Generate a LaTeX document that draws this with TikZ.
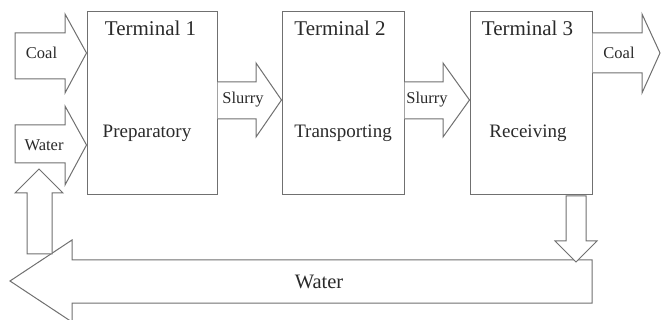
\documentclass[tikz,border=0pt]{standalone}
\usepackage{fontspec}
\setmainfont{Liberation Serif}
\definecolor{edge}{HTML}{707070}
\definecolor{ink}{HTML}{2A2A2A}
\begin{document}
\begin{tikzpicture}[x=1pt,y=-1pt,
  line width=1pt,
  terminal/.style={draw=edge, minimum height=183pt, inner sep=0pt},
  blockarrow/.style={draw=edge, fill=white, line join=miter},
  title/.style={text=ink, font=\fontsize{21}{23}\selectfont},
  role/.style={text=ink, font=\fontsize{19}{21}\selectfont},
  flow/.style={text=ink, font=\fontsize{16.5}{18}\selectfont},
  bigflow/.style={text=ink, font=\fontsize{20.5}{22}\selectfont}]
\useasboundingbox (0,0) rectangle (661,320);

% the three terminals
\node[terminal, minimum width=130pt] (t1) at (152,103.5) {};
\node[terminal, minimum width=122pt] (t2) at (343,103.5) {};
\node[terminal, minimum width=122pt] (t3) at (531,103.5) {};

% return water line along the bottom
\draw[blockarrow] (592,260) -- (592,303) -- (72,303) -- (72,322) -- (10,281)
  -- (72,240) -- (72,260) -- cycle;
% water taken back up to terminal 1
\draw[blockarrow] (27,254) -- (52,254) -- (52,193) -- (63,193) -- (39,169)
  -- (15,193) -- (27,193) -- cycle;
% water leaving terminal 3
\draw[blockarrow] (566,196) -- (586,196) -- (586,241) -- (597,241) -- (576,262)
  -- (555,241) -- (566,241) -- cycle;

% inputs to terminal 1
\draw[blockarrow] (15,33) -- (65,33) -- (65,14) -- (t1.west |- 0,53) -- (65,93)
  -- (65,79) -- (15,79) -- cycle;
\draw[blockarrow] (15,125) -- (65,125) -- (65,106) -- (t1.west |- 0,145) -- (65,185)
  -- (65,163) -- (15,163) -- cycle;

% slurry between terminals
\draw[blockarrow] (t1.east |- 0,82) -- (256,82) -- (256,63) -- (t2.west |- 0,100)
  -- (256,137) -- (256,119) -- (t1.east |- 0,119);
\draw[blockarrow] (t2.east |- 0,82) -- (443,82) -- (443,63) -- (t3.west |- 0,100)
  -- (443,137) -- (443,119) -- (t2.east |- 0,119);

% coal leaving terminal 3
\draw[blockarrow] (t3.east |- 0,33) -- (642,33) -- (642,14) -- (660,53) -- (642,93)
  -- (642,73) -- (t3.east |- 0,73);

% labels
\node[title] (t1title) at (150.5,28) {Terminal 1};
\node[title] (t2title) at (340,28) {Terminal 2};
\node[title] (t3title) at (527.5,28) {Terminal 3};
\node[role] (t1role) at (147,133) {Preparatory};
\node[role] (t2role) at (343,133) {Transporting};
\node[role] (t3role) at (528,133) {Receiving};
\node[flow] (coalin) at (41.5,53) {Coal};
\node[flow] (waterin) at (44,145) {Water};
\node[flow] (slurry1) at (243,100) {Slurry};
\node[flow] (slurry2) at (427,100) {Slurry};
\node[flow] (coalout) at (619,53) {Coal};
\node[bigflow] (waterback) at (319,282) {Water};
\end{tikzpicture}
\end{document}
